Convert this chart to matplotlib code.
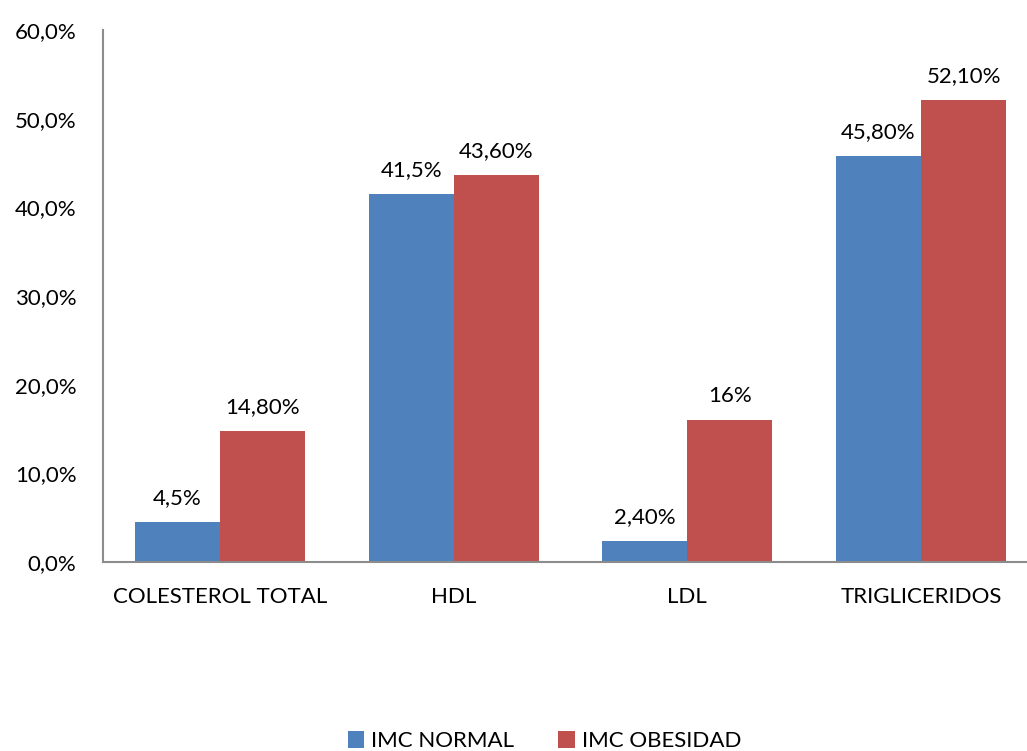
import numpy as np
import matplotlib.pyplot as plt
from matplotlib.ticker import MultipleLocator, FuncFormatter

plt.rcParams['font.family'] = ['Lato', 'DejaVu Sans']

categorias = ['COLESTEROL TOTAL', 'HDL', 'LDL', 'TRIGLICERIDOS']
imc_normal = [4.5, 41.5, 2.4, 45.8]
imc_obesidad = [14.8, 43.6, 16.0, 52.1]
etiquetas_normal = ['4,5%', '41,5%', '2,40%', '45,80%']
etiquetas_obesidad = ['14,80%', '43,60%', '16%', '52,10%']

azul = '#4F81BD'
rojo = '#C0504D'

fig = plt.figure(figsize=(10.27, 7.51), dpi=100)
ax = fig.add_axes([0.1003, 0.2517, 0.9104, 0.7083])

x = np.arange(len(categorias))
w = 0.364
b1 = ax.bar(x - w / 2, imc_normal, w, color=azul, label='IMC NORMAL')
b2 = ax.bar(x + w / 2, imc_obesidad, w, color=rojo, label='IMC OBESIDAD')

for barras, textos in ((b1, etiquetas_normal), (b2, etiquetas_obesidad)):
    for barra, t in zip(barras, textos):
        ax.annotate(t, (barra.get_x() + barra.get_width() / 2, barra.get_height()),
                    xytext=(0, 10), textcoords='offset points',
                    ha='center', va='bottom', fontsize=16)

ax.set_xlim(-0.5, 3.5)
ax.set_ylim(0, 60)
ax.yaxis.set_major_locator(MultipleLocator(10))
ax.yaxis.set_major_formatter(FuncFormatter(lambda v, p: f'{v:.1f}%'.replace('.', ',')))
ax.set_xticks(x)
ax.set_xticklabels(categorias)
ax.tick_params(axis='both', length=0, labelsize=16)
ax.tick_params(axis='x', pad=18)
ax.tick_params(axis='y', pad=19)

for s in ('top', 'right'):
    ax.spines[s].set_visible(False)
ax.spines['left'].set_color('#8C8C8C')
ax.spines['bottom'].set_color('#8C8C8C')
ax.spines['left'].set_linewidth(1.5)
ax.spines['bottom'].set_linewidth(1.5)

fig.legend(handles=[b1, b2], loc='center', bbox_to_anchor=(0.53, 0.013),
           ncol=2, frameon=False, fontsize=16, handlelength=0.75, handleheight=0.75,
           handletextpad=0.3, columnspacing=2.0)

fig.savefig('out.png', dpi=100)
